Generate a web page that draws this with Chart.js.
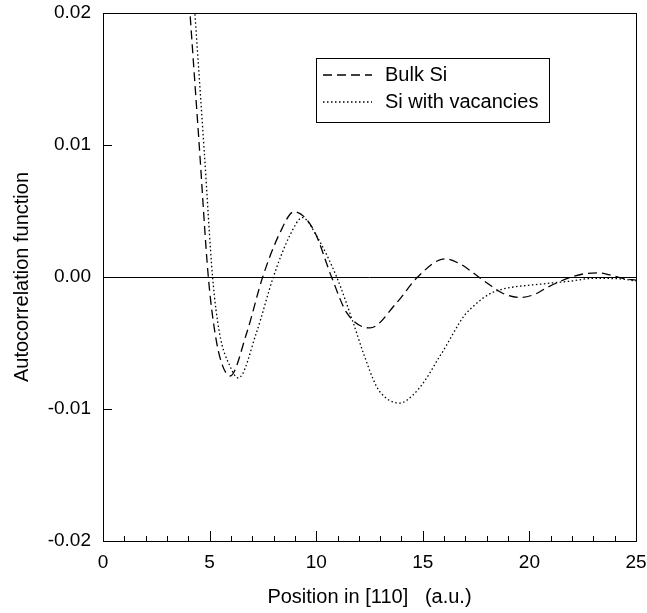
<!DOCTYPE html>
<html>
<head>
<meta charset="utf-8">
<script src="https://cdn.jsdelivr.net/npm/chart.js@4/dist/chart.umd.min.js"></script>
<style>
html,body{margin:0;padding:0;background:#fff;}
#wrap{width:647px;height:613px;position:relative;}
</style>
</head>
<body>
<div id="wrap"><canvas id="c" width="647" height="613"></canvas></div>
<script>
// ---- data ----
const bulkX = [3.5, 4.08, 4.5, 4.94, 5.25, 5.56, 5.96, 6.74, 7.49, 8.3, 8.96, 9.87, 10.72, 11.43, 12.52, 13.77, 14.76, 16.04, 16.74, 17.21, 17.62, 18.23, 18.77, 19.6, 20.3, 20.8, 21.98, 22.6, 23.23, 23.9, 24.4, 25];
const bulkY = [0.0335, 0.02, 0.0103, 0, -0.0042, -0.0065, -0.0075, -0.00424, 0, 0.00335, 0.00495, 0.0036, 0, -0.0027, -0.00386, -0.00196, 0, 0.00138, 0.001, 0.0005, 0, -0.0007, -0.00125, -0.00155, -0.00128, -0.00082, 0, 0.00025, 0.00032, 0.0001, -0.0001, -0.00024];
const vacX = [3.8, 4.31, 4.75, 5.14, 5.46, 5.96, 6.35, 7.2, 7.99, 8.75, 9.36, 10.02, 10.96, 11.74, 12.21, 12.83, 13.3, 13.93, 14.55, 15.02, 15.33, 15.65, 16.04, 16.35, 16.67, 16.98, 17.37, 17.84, 18.3, 18.78, 20.64, 21.9, 23, 24.25, 25];
const vacY = [0.0323, 0.02, 0.0095, 0, -0.0042, -0.00677, -0.00765, -0.0042, 0, 0.0031, 0.0045, 0.0031, 0, -0.00348, -0.00575, -0.00829, -0.0092, -0.00955, -0.00892, -0.00803, -0.00727, -0.00639, -0.00537, -0.00449, -0.0036, -0.00285, -0.00222, -0.00158, -0.00115, -0.0009, -0.00052, -0.00032, -0.0001, -0.00014, -0.0003];
const seriesLabels = ["Bulk Si", "Si with vacancies"];
const xTitle = "Position in [110]   (a.u.)";
const yTitle = "Autocorrelation function";
const xTicks = [0, 5, 10, 15, 20, 25];
const yTicks = [-0.02, -0.01, 0, 0.01, 0.02];

const FONT = "'Liberation Sans', Arial, sans-serif";
const toPts = (xs, ys) => xs.map((x, i) => ({x: x, y: ys[i]}));

const framePlugin = {
  id: 'frame',
  afterDraw(chart) {
    const {ctx, chartArea: a, scales} = chart;
    ctx.save();
    ctx.strokeStyle = '#000';
    ctx.lineWidth = 1;
    ctx.strokeRect(a.left + 0.5, a.top + 0.5, a.right - a.left, a.bottom - a.top);
    // inward x ticks (major every 5, minor every 1)
    const xs = scales.x;
    ctx.beginPath();
    for (let v = xs.min; v <= xs.max; v += 1) {
      const px = Math.round(xs.getPixelForValue(v)) + 0.5;
      const len = (v % 5 === 0) ? 10 : 5;
      ctx.moveTo(px, a.bottom);
      ctx.lineTo(px, a.bottom - len);
    }
    // inward y ticks
    const ys = scales.y;
    yTicks.forEach(v => {
      const py = Math.round(ys.getPixelForValue(v)) + 0.5;
      ctx.moveTo(a.left, py);
      ctx.lineTo(a.left + 9, py);
    });
    ctx.stroke();

    // legend box
    const bx = a.left + 213, by = a.top + 45, bw = 233, bh = 64;
    ctx.strokeRect(bx + 0.5, by + 0.5, bw, bh);
    chart.data.datasets.forEach((ds, i) => {
      const yy = by + 17 + i * 27;
      ctx.beginPath();
      ctx.setLineDash(ds.borderDash || []);
      ctx.lineWidth = ds.borderWidth;
      ctx.moveTo(bx + 7, yy);
      ctx.lineTo(bx + 56, yy);
      ctx.stroke();
      ctx.setLineDash([]);
      ctx.fillStyle = '#000';
      ctx.font = "20px " + FONT;
      ctx.textBaseline = 'middle';
      ctx.textAlign = 'left';
      ctx.fillText(ds.label, bx + 69, yy);
    });
    ctx.restore();
  }
};

new Chart(document.getElementById('c'), {
  type: 'line',
  data: {
    datasets: [
      {label: seriesLabels[0], data: toPts(bulkX, bulkY), borderColor: '#000', borderWidth: 1.3, borderDash: [9, 5], pointRadius: 0, fill: false, cubicInterpolationMode: 'monotone'},
      {label: seriesLabels[1], data: toPts(vacX, vacY), borderColor: '#000', borderWidth: 1.3, borderDash: [1.5, 2.5], pointRadius: 0, fill: false, cubicInterpolationMode: 'monotone'}
    ]
  },
  options: {
    responsive: false,
    animation: false,
    layout: {padding: {left: 0, top: 13, right: 11, bottom: 0}},
    plugins: {legend: {display: false}, tooltip: {enabled: false}},
    scales: {
      x: {
        type: 'linear', min: 0, max: 25,
        afterFit: s => { s.height = 72; s.paddingLeft = 0; s.paddingRight = 0; },
        afterBuildTicks: s => { s.ticks = xTicks.map(v => ({value: v})); },
        ticks: {color: '#000', font: {family: FONT, size: 19}, padding: 10, maxRotation: 0},
        grid: {display: false, drawTicks: false},
        border: {display: false},
        title: {display: true, text: xTitle, color: '#000', font: {family: FONT, size: 20}, padding: {top: 0, bottom: 4}}
      },
      y: {
        type: 'linear', min: -0.02, max: 0.02,
        afterFit: s => { s.width = 103; s.paddingTop = 0; s.paddingBottom = 0; },
        afterBuildTicks: s => { s.ticks = yTicks.map(v => ({value: v})); },
        ticks: {color: '#000', font: {family: FONT, size: 19}, padding: 12, callback: v => v.toFixed(2)},
        grid: {drawTicks: false, color: c => (c.tick && c.tick.value === 0) ? '#000' : 'rgba(0,0,0,0)', lineWidth: 1},
        border: {display: false},
        title: {display: true, text: yTitle, color: '#000', font: {family: FONT, size: 20}, padding: {top: 10, bottom: 0}}
      }
    }
  },
  plugins: [framePlugin]
});
</script>
</body>
</html>
